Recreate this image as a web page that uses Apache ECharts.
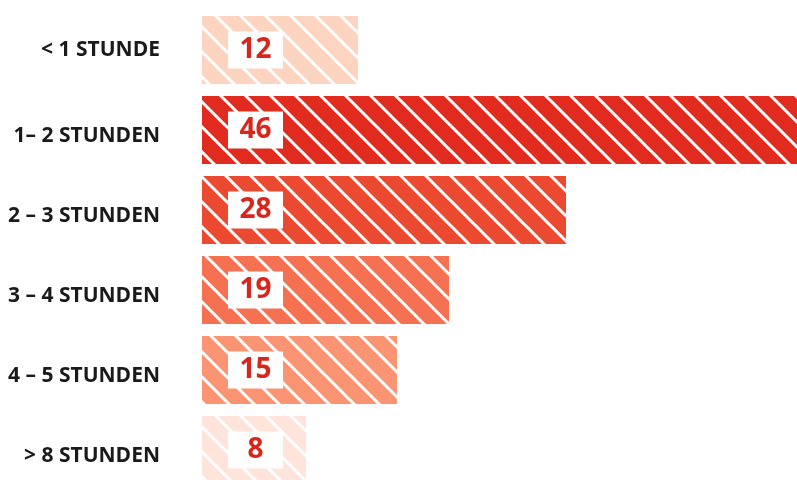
<!DOCTYPE html>
<html>
<head>
<meta charset="utf-8">
<script src="https://cdn.jsdelivr.net/npm/echarts@6/dist/echarts.min.js"></script>
<style>html,body{margin:0;padding:0;background:#fff}#c{width:797px;height:480px}</style>
</head>
<body>
<div id="c"></div>
<script>
const categories = ['< 1 STUNDE', '1– 2 STUNDEN', '2 – 3 STUNDEN', '3 – 4 STUNDEN', '4 – 5 STUNDEN', '> 8 STUNDEN'];
const values = [12, 46, 28, 19, 15, 8];
const barColors = ['#fdd4c0', '#e02b1e', '#eb4a30', '#f57151', '#fa9472', '#fee4da'];

function stripePattern(color) {
  const s = 25;
  const cv = document.createElement('canvas');
  cv.width = s; cv.height = s;
  const ctx = cv.getContext('2d');
  ctx.fillStyle = color;
  ctx.fillRect(0, 0, s, s);
  ctx.strokeStyle = '#ffffff';
  ctx.lineWidth = 3;
  for (const dx of [-s, 0, s]) {
    ctx.beginPath();
    ctx.moveTo(dx - s, -s);
    ctx.lineTo(dx + 2 * s, 2 * s);
    ctx.stroke();
  }
  return { image: cv, repeat: 'repeat' };
}

const labelFont = { color: '#1a1a1a', fontSize: 21, fontWeight: 'bold', fontFamily: 'Open Sans' };

const chart = echarts.init(document.getElementById('c'), null, { renderer: 'canvas' });
chart.setOption({
  animation: false,
  grid: { left: 202, top: 10, right: -3, bottom: -10, containLabel: false, outerBoundsMode: 'none' },
  xAxis: { type: 'value', min: 0, max: 46, show: false },
  yAxis: {
    type: 'category', inverse: true, data: categories,
    axisLine: { show: false }, axisTick: { show: false }, splitLine: { show: false },
    axisLabel: {
      margin: 42,
      formatter: (v, i) => (i === 0 ? '{f|' + v + '}' : '{o|' + v + '}'),
      rich: {
        f: Object.assign({}, labelFont),
        o: Object.assign({ padding: [13, 0, 0, 0] }, labelFont)
      }
    }
  },
  series: [{
    type: 'bar', barWidth: 68,
    data: values.map((v, i) => ({ value: v, itemStyle: { color: stripePattern(barColors[i]) } })),
    label: {
      show: true, position: 'insideLeft', distance: 26,
      formatter: '{b|{c}}',
      rich: {
        b: {
          width: 55, height: 37, lineHeight: 37, align: 'center',
          backgroundColor: '#ffffff', color: '#d9261c',
          fontSize: 28, fontWeight: 'bold', fontFamily: 'Open Sans'
        }
      }
    }
  }]
});
</script>
</body>
</html>
